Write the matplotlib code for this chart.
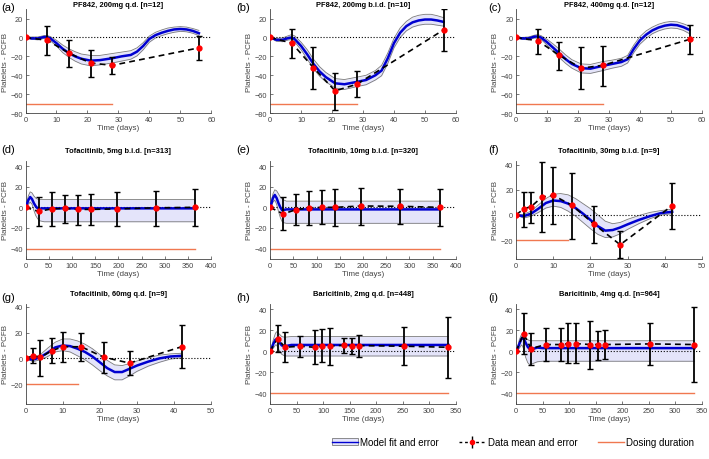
import matplotlib
matplotlib.use("Agg")
import matplotlib.pyplot as plt
from matplotlib.patches import Patch
from matplotlib.lines import Line2D

plt.rcParams['font.family'] = ['Liberation Sans', 'DejaVu Sans']

# ---- PF842 panels (a)-(c) ----
t_pf = [0, 7, 14, 21, 28, 56]
a_mean = [0, -3, -16.5, -27, -29.5, -11]
a_hi = [0, 12.5, -3, -13.5, -21, 1.5]
a_lo = [0, -19, -31.5, -41.5, -38.5, -24]
b_mean = [0, -6, -32, -56.5, -49.5, 8]
b_hi = [0, 9, -10, -37.5, -36, 30.5]
b_lo = [0, -21.5, -54.5, -76.5, -63, -14.5]
c_mean = [0, -3.5, -19, -32.5, -29.5, -2]
c_hi = [0, 9, -5, -10.5, -9, 13]
c_lo = [0, -17, -34, -55, -51, -18]

tm_pf = [0, 2, 4, 6, 7, 8, 10, 12, 14, 16, 18, 21, 24, 28, 31, 34, 36, 38, 40, 42, 44, 46, 48, 50, 52, 54, 56]
a_fit = [0, -1, -1, 0.5, 0.5, -1, -6, -12, -16.5, -20, -22.5, -24.5, -24, -22, -20, -18.5, -15, -9, -1.5, 2.5, 5, 7, 8.5, 9, 8.5, 7, 4.5]
a_up = [0, 0.5, 0.5, 2, 2, 1, -3, -8, -12, -15, -17.5, -19, -19, -17, -15.5, -14, -11, -5.5, 1.5, 5.5, 8, 10, 11, 11.5, 11, 9.5, 7.5]
a_dn = [0, -2, -2.5, -1, -1, -3.5, -9, -16, -21, -25, -28, -30, -29, -27, -25, -23, -19.5, -13, -5, -0.5, 2, 4, 5.5, 6.5, 6, 4.5, 2]
b_fit = [0, -2.5, -2.5, -0.5, 0, -2, -9, -18, -28, -36, -42, -48.5, -49.5, -47, -45, -40, -35, -22, -6, 5, 12, 16, 18, 19, 19, 18, 16.5]
b_up = [0, -1, -0.5, 2, 3, 1.5, -5, -13, -23, -31, -37, -43.5, -44.5, -42, -40, -35, -29.5, -16.5, -1, 10, 17, 21.5, 23.5, 24.5, 24.5, 23, 21]
b_dn = [0, -4, -4.5, -2.5, -2.5, -5, -13, -23, -33, -41, -47, -53.5, -55, -52, -50, -45, -40.5, -27.5, -11, 0, 7, 11, 13, 14, 14, 13, 12]
c_fit = [0, -1, -1, 1, 1, 0, -5, -11, -17, -23, -28, -32.5, -33, -30, -28, -26, -23, -12, -3, 3, 7.5, 10.5, 12.5, 13.5, 13, 11, 8]
c_up = [0, 0, 0.5, 2.5, 3, 2, -2, -7, -12.5, -18.5, -23.5, -28, -28.5, -25.5, -24, -22, -19, -8, 1, 7, 11, 14, 16, 17, 16.5, 14.5, 12]
c_dn = [0, -2, -2.5, -0.5, -1, -2, -8, -15, -21.5, -27.5, -32.5, -37.5, -38, -35, -32.5, -30.5, -27, -16, -7, -1, 4, 7, 9, 10, 9.5, 7.5, 4]

# ---- long-term Tofacitinib panels (d)-(e) ----
t_tofa = [0, 28, 56, 84, 112, 140, 196, 280, 365]
d_mean = [0, -4, -1.5, -1, -2, -2, -1.5, -0.5, 0]
d_hi = [0, 9.7, 14.5, 12.3, 12.3, 12.9, 14.5, 16, 17.4]
d_lo = [0, -17.7, -17.7, -15.5, -16.8, -16.8, -18.4, -18.4, -17.7]
e_mean = [0, -6.4, -2.2, -0.6, 0, 0, 1.3, 1, 0]
e_hi = [0, 9.6, 12.8, 16, 16.6, 17.9, 18.5, 17.3, 17.3]
e_lo = [0, -22, -17.3, -17.6, -16.6, -18.2, -17.3, -16, -18.2]

tm_long = [0, 3, 6, 10, 14, 18, 22, 26, 30, 35, 40, 50, 365]
d_fit = [0, 3, 7, 10, 8, 4, 1, -1, -1.5, -1, -1, -1, -1]
d_up = [0, 5, 11, 15, 14, 11, 9, 8, 7.5, 7.5, 7.5, 7.5, 7.5]
d_dn = [0, 1, 3, 5, 3, -3, -8, -11, -13, -13.5, -14, -14, -14]
e_fit = [0, 4, 9, 12, 9, 4, 0, -3, -2.5, -2, -2, -2, -2]
e_up = [0, 6, 13, 17, 16, 13, 10, 8, 7, 6, 6, 6, 6]
e_dn = [0, 2, 5, 7, 3, -4, -10, -14, -15, -15.5, -15.5, -15.5, -15.5]

# ---- short Tofacitinib panels (f)-(g) ----
t_short = [0, 2, 4, 7, 10, 15, 21, 28, 42]
f_mean = [0, 4.8, 6.6, 14.3, 15.6, 7.7, -7.4, -23.7, 7.4]
f_hi = [0, 18.4, 18.4, 41.8, 38, 33.7, 6.9, -13, 25.8]
f_lo = [0, -9.7, -6.1, -13.5, -6.9, -18.9, -22.4, -34, -11.2]
g_mean = [0, 2, 0.8, 5.9, 9, 9, 1, -3.6, 9]
g_hi = [0, 7.7, 14.4, 15.9, 20.5, 19.5, 13, 5.9, 25.6]
g_lo = [0, -3.6, -13.3, -3.6, -2.6, -1.8, -11.3, -12.8, -7.7]

tm_short = [0, 2, 4, 6, 8, 10, 12, 14, 16, 18, 20, 22, 24, 26, 28, 30, 33, 36, 39, 42]
f_fit = [0, -1, 1, 5, 9.5, 11.5, 11, 9, 5.5, 1, -4, -9, -12.5, -12, -10, -7.5, -4, -1, 1.5, 2.5]
f_up = [0, 0.5, 3, 8, 13, 16.5, 17, 16, 13, 9, 5, 0, -5, -7, -6, -3.5, -0.5, 2, 3.5, 4.5]
f_dn = [0, -2.5, -1, 2, 5.5, 7, 6, 3, -1, -6, -11, -15.5, -18, -17.5, -15, -11.5, -7, -3, 0, 1]
g_fit = [0, -1, 1, 4.5, 8.5, 10, 9.5, 7.5, 5, 1.5, -3, -7.5, -10.5, -10.5, -8, -5.5, -2.5, 0, 1.5, 2]
g_up = [0, 0.5, 3, 8, 12.5, 15, 15, 13.5, 11, 7.5, 3, -1.5, -5, -5.5, -4, -2, 0.5, 2.5, 3.5, 4]
g_dn = [0, -2.5, -1, 1.5, 5, 6, 5, 2, -1, -5, -9.5, -13.5, -16.5, -16.5, -13.5, -10, -6, -3, -0.5, 0.5]

# ---- Baricitinib panels (h)-(i) ----
t_bari = [0, 14, 28, 56, 84, 98, 112, 140, 154, 168, 252, 336]
h_mean = [0, 12, 3.8, 4.8, 3.8, 5, 5, 5.7, 5, 5.4, 4.8, 3.8]
h_hi = [0, 25, 18, 14.7, 19.8, 21, 21.7, 13, 13, 15.3, 23.3, 32.6]
h_lo = [0, -0.6, -10, -5, -12, -10, -12.8, -2, -3, -5.4, -13.4, -25.5]
i_mean = [0, 16.6, 2.6, 6.4, 6.4, 7.3, 7.3, 6.4, 6.4, 6.4, 7, 6.4]
i_hi = [0, 36, 17.6, 22.4, 22.4, 26.8, 26.8, 29, 19.5, 20, 27, 42]
i_lo = [0, -2.6, -13.4, -9.6, -9.6, -11.5, -11.5, -16.6, -8, -7, -13.4, -29.4]

tm_bari = [0, 3, 6, 10, 12, 14, 18, 22, 26, 30, 40, 50, 336]
h_fit = [0, 3, 7, 11, 11.5, 11, 8, 5.5, 5, 5, 6, 6, 6]
h_up = [0, 5, 11, 17, 18.5, 18, 16, 14, 13.5, 13.5, 14, 14, 14]
h_dn = [0, 1, 3, 6, 6, 4, 0, -3, -4, -4.5, -4.5, -4.5, -4.5]
i_fit = [0, 3, 7, 12, 13, 12, 8, 4, 2, 2, 3.5, 3, 3]
i_up = [0, 5, 11, 16, 17, 16, 13, 11, 10, 10, 10, 10, 10]
i_dn = [0, 1, 3, 6, 5, 2, -6, -11, -13, -12, -10, -9.5, -9.5]

titles = ['PF842, 200mg q.d. [n=12]', 'PF842, 200mg b.i.d. [n=10]', 'PF842, 400mg q.d. [n=12]',
          'Tofacitinib, 5mg b.i.d. [n=313]', 'Tofacitinib, 10mg b.i.d. [n=320]', 'Tofacitinib, 30mg b.i.d. [n=9]',
          'Tofacitinib, 60mg q.d. [n=9]', 'Baricitinib, 2mg q.d. [n=448]', 'Baricitinib, 4mg q.d. [n=964]']
labels = ['(a)', '(b)', '(c)', '(d)', '(e)', '(f)', '(g)', '(h)', '(i)']
dose_end = [28, 28, 28, 365, 365, 14, 14, 336, 336]
dose_level = [-70, -70, -70, -40, -40, -20, -20, -40, -40]

panels = [
    (t_pf, a_mean, a_hi, a_lo, tm_pf, a_fit, a_up, a_dn),
    (t_pf, b_mean, b_hi, b_lo, tm_pf, b_fit, b_up, b_dn),
    (t_pf, c_mean, c_hi, c_lo, tm_pf, c_fit, c_up, c_dn),
    (t_tofa, d_mean, d_hi, d_lo, tm_long, d_fit, d_up, d_dn),
    (t_tofa, e_mean, e_hi, e_lo, tm_long, e_fit, e_up, e_dn),
    (t_short, f_mean, f_hi, f_lo, tm_short, f_fit, f_up, f_dn),
    (t_short, g_mean, g_hi, g_lo, tm_short, g_fit, g_up, g_dn),
    (t_bari, h_mean, h_hi, h_lo, tm_bari, h_fit, h_up, h_dn),
    (t_bari, i_mean, i_hi, i_lo, tm_bari, i_fit, i_up, i_dn),
]
xlims = [(0, 60), (0, 60), (0, 60), (0, 400), (0, 400), (0, 50), (0, 50), (0, 350), (0, 350)]
ylims = [(-80, 30), (-80, 30), (-80, 30), (-50, 45), (-50, 45), (-35, 43), (-35, 42), (-50, 45), (-50, 45)]
xticks = [10, 10, 10, 50, 50, 10, 10, 50, 50]

BLUE = '#0000d0'
BAND = '#e4e4fa'
EDGE = '#7a7a7a'
ORANGE = '#f07850'
AXC = '#444444'

lefts = [0.036, 0.381, 0.728]
width = 0.262
bottoms = [0.752, 0.435, 0.120]
heights = [0.226, 0.213, 0.217]
title_pad = [2.5, 6.5, 6.5]
# panel-letter positions in pixels (left edge per column, vertical centre per row)
lab_x = [1, 236, 488]
lab_y = [8, 150, 298]

fig = plt.figure(figsize=(7.09, 4.6), dpi=100)
W, H = 709.0, 460.0

for k, (tt, mean, hi, lo, tm, fit, up, dn) in enumerate(panels):
    r, c = divmod(k, 3)
    ax = fig.add_axes([lefts[c], bottoms[r], width, heights[r]])
    ax.fill_between(tm, dn, up, color=BAND, lw=0, zorder=1)
    ax.plot(tm, up, color=EDGE, lw=0.6, zorder=2)
    ax.plot(tm, dn, color=EDGE, lw=0.6, zorder=2)
    ax.plot(tm, fit, color=BLUE, lw=1.8, zorder=3)
    ax.axhline(0, color='black', ls=':', lw=0.8, zorder=2.5)
    ax.plot(tt, mean, color='black', ls=(0, (3.5, 2.5)), lw=1.2, zorder=4)
    err_lo = [m - l for m, l in zip(mean, lo)]
    err_hi = [h - m for m, h in zip(mean, hi)]
    ax.errorbar(tt, mean, yerr=[err_lo, err_hi], fmt='none', ecolor='black', elinewidth=1.3,
                capsize=2, capthick=1.0, zorder=5)
    ax.plot(tt, mean, 'o', color='red', ms=3.5, mec='red', zorder=6)
    ax.plot([0, dose_end[k]], [dose_level[k], dose_level[k]], color=ORANGE, lw=1.0, zorder=2)

    ax.set_xlim(*xlims[k])
    ax.set_ylim(*ylims[k])
    x0, x1 = xlims[k]
    ax.set_xticks(range(x0, x1 + 1, xticks[k]))
    y0, y1 = ylims[k]
    ax.set_yticks([v for v in range(-80, 41, 20) if y0 <= v <= y1])
    for s in ['top', 'right']:
        ax.spines[s].set_visible(False)
    for s in ['left', 'bottom']:
        ax.spines[s].set_color(AXC)
        ax.spines[s].set_linewidth(0.6)
    ax.tick_params(direction='in', length=2, width=0.5, labelsize=5.3, colors=AXC, pad=2)
    ax.set_xlabel('Time (days)', fontsize=5.8, color=AXC, labelpad=1)
    ax.set_ylabel('Platelets - PCFB', fontsize=5.8, color=AXC, labelpad=1)
    ax.set_title(titles[k], fontsize=5.4, fontweight='bold', pad=title_pad[r])
    fig.text(lab_x[c] / W, 1 - lab_y[r] / H, labels[k], fontsize=8, ha='left', va='center')

h_model = (Patch(facecolor=BAND, edgecolor=EDGE, lw=0.6), Line2D([], [], color=BLUE, lw=1.0))
h_data = (Line2D([], [], color='black', ls=(0, (2, 2)), lw=1.0),
          Line2D([], [], ls='none', marker='|', color='black', ms=9, mew=1.0),
          Line2D([], [], ls='none', marker='o', mfc='red', mec='red', ms=3))
h_dose = Line2D([], [], color=ORANGE, lw=1.0)
fig.legend([h_model, h_data, h_dose], ['Model fit and error', 'Data mean and error', 'Dosing duration'],
           loc='center left', bbox_to_anchor=(332 / W, 1 - 443 / H), ncol=3, frameon=False, fontsize=7,
           handlelength=2.7, handletextpad=0.2, columnspacing=2.1, borderpad=0, borderaxespad=0)

fig.savefig('out.png', dpi=100)
